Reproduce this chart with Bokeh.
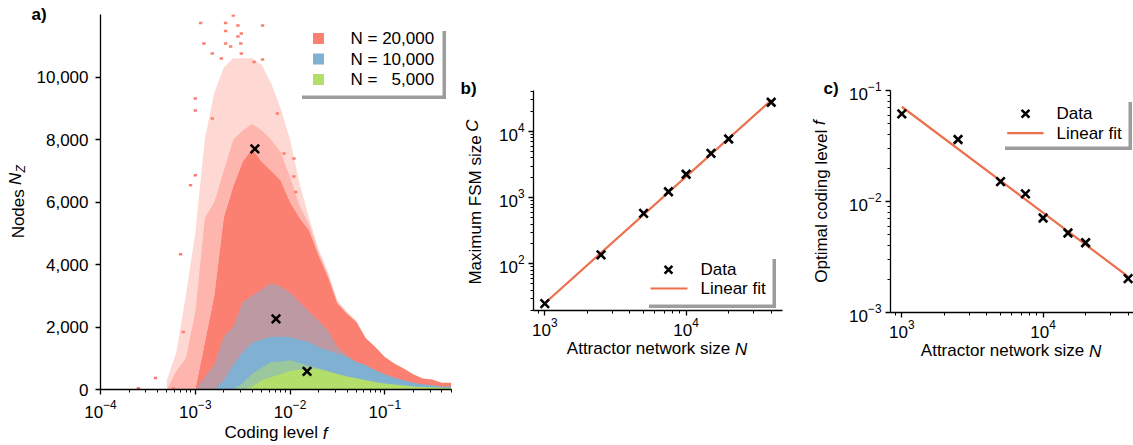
import numpy as np
from bokeh.plotting import figure
from bokeh.layouts import row, column
from bokeh.models import (FixedTicker, NumeralTickFormatter, Label, BoxAnnotation,
                          Title, Spacer)
from bokeh.embed import file_html
from bokeh.resources import INLINE

FONT = "Liberation Sans"
FS = "17px"
RED, BLUE, GREEN = "#FB8072", "#80B1D3", "#B3DE69"
FIT = "#EC6F4E"
SHADOW = "#9d9d9d"
NB = "\u00a0"

# ---------------------------------------------------------------------------
# Panel a: node counts per coding-level column (column centres in log10 f)
# ---------------------------------------------------------------------------
log_f = [-3.3, -3.2, -3.1, -3.0, -2.9, -2.8, -2.7, -2.6, -2.5, -2.4, -2.3,
         -2.2, -2.1, -2.0, -1.9, -1.8, -1.7, -1.6, -1.5, -1.4, -1.3, -1.2,
         -1.1, -1.0, -0.9, -0.8, -0.7, -0.6, -0.5, -0.4, -0.3]
# N = 20,000: top of the thin scatter, of the half-filled band, of the solid band
red_sparse = [300, 1200, 3000, 5000, 8000, 9500, 10300, 10600, 10600, 10600, 10400,
              9800, 9000, 8000, 6600, 5500, 4500, 3750, 2850, 2500, 2200, 1640,
              1360, 1040, 830, 670, 490, 350, 320, 220, 220]
red_mid = [0, 600, 1000, 2500, 5500, 6000, 7000, 8000, 8300, 8500, 8300,
           8000, 7600, 6800, 5900, 5300, 4400, 3700, 2800, 2450, 2180, 1640,
           1360, 1040, 830, 670, 490, 350, 320, 220, 220]
red_dense = [0, 0, 0, 0, 1500, 3000, 5500, 6500, 7300, 7700, 7300,
             7000, 6700, 6000, 5500, 5100, 4300, 3600, 2750, 2430, 2160, 1640,
             1360, 1040, 830, 670, 490, 350, 320, 220, 220]
# N = 10,000
blue_mix = [0, 0, 0, 0, 400, 800, 1700, 2000, 2800, 3000, 3200,
            3400, 3300, 3100, 2800, 2500, 2200, 1900, 1360, 1100, 880, 780,
            620, 490, 380, 300, 220, 170, 140, 100, 100]
blue_dense = [0, 0, 0, 0, 0, 0, 300, 800, 1200, 1500, 1600,
              1700, 1700, 1680, 1600, 1520, 1360, 1260, 1150, 1040, 880, 780,
              620, 490, 380, 300, 220, 170, 140, 100, 100]
# N = 5,000
green_mix = [0, 0, 0, 0, 0, 0, 0, 0, 200, 500, 700,
             880, 900, 940, 850, 760, 680, 600, 500, 420, 360, 300,
             240, 190, 160, 130, 100, 80, 70, 60, 50]
green_dense = [0, 0, 0, 0, 0, 0, 0, 0, 0, 100, 300,
               400, 500, 600, 640, 680, 650, 580, 500, 420, 360, 300,
               240, 190, 160, 130, 100, 80, 70, 60, 50]
# isolated N = 20,000 cells (log10 f, nodes)
stray_log_f = [-3.60, -3.42, -3.23, -3.155, -3.127, -3.05, -3.0, -3.0, -3.0, -2.944,
               -2.909, -2.82, -2.82, -2.725, -2.68, -2.68, -2.68, -2.627, -2.599, -2.55,
               -2.55, -2.52, -2.514, -2.514, -2.38, -2.29, -2.29, -2.134, -2.064, -1.959,
               -1.959, -1.94]
stray_nodes = [40, 370, 30, 4330, 1840, 6540, 6860, 8930, 9310, 11730,
               11070, 10750, 8670, 10590, 11730, 11470, 11070, 10980, 11970, 11650,
               11300, 11070, 11390, 10750, 10480, 11650, 10560, 8830, 7550, 7390,
               6820, 6320]

# ---------------------------------------------------------------------------
# Panels b and c: scaling with attractor network size
# ---------------------------------------------------------------------------
net_size = [1000, 2500, 5000, 7500, 10000, 15000, 20000, 40000]
fsm_size = [25, 137, 580, 1230, 2260, 4680, 7700, 27700]
opt_coding = [0.0616, 0.0362, 0.0151, 0.0117, 0.0071, 0.0052, 0.00425, 0.00202]
hist_sizes = [20000, 10000, 5000]
hist_labels = ["N = 20,000", "N = 10,000", "N = " + NB + NB + "5,000"]
fit_labels = ["Data", "Linear fit"]

# frame geometry on the page: left, bottom, width, height, log/lin x and y limits
GA = (100, 389, 351, 375, (-4.0, np.log10(0.505)), (0, 12000))
GB = (533, 310, 249, 220, (2.92, 4.682), (1.295, 4.62))
GC = (890, 312, 243, 222, (2.92, 4.64), (-3.0, -1.0))


def style(p, xlabel, ylabel, x_std, y_std, ylab_std, xlab_std):
    p.outline_line_color = None
    p.grid.visible = False
    p.background_fill_color = "white"
    p.border_fill_color = "white"
    for ax in (p.xaxis[0], p.yaxis[0]):
        ax.axis_line_color = "black"
        ax.axis_line_width = 1.3
        ax.major_tick_line_color = "black"
        ax.major_tick_line_width = 1.3
        ax.minor_tick_line_color = "black"
        ax.minor_tick_line_width = 1.0
        ax.major_tick_in = 0
        ax.major_tick_out = 5
        ax.minor_tick_in = 0
        ax.minor_tick_out = 3
        ax.major_label_text_font = FONT
        ax.major_label_text_font_size = FS
        ax.major_label_text_color = "black"
        ax.axis_label_text_font = FONT
        ax.axis_label_text_font_size = FS
        ax.axis_label_text_font_style = "normal"
        ax.axis_label_text_color = "black"
    p.xaxis.axis_label = xlabel
    p.yaxis.axis_label = ylabel
    p.xaxis.major_label_standoff = x_std
    p.yaxis.major_label_standoff = y_std
    p.yaxis.axis_label_standoff = ylab_std
    p.xaxis.axis_label_standoff = xlab_std


def italic(p, side, s, offset, standoff=None, size=FS):
    """Italic symbol set in line with an axis title."""
    if side == "below":
        valign, standoff = "top", (-41 if standoff is None else standoff)
    else:
        valign, standoff = "bottom", (-38 if standoff is None else standoff)
    p.add_layout(Title(text=s, align="left", vertical_align=valign, offset=offset,
                       standoff=standoff, text_font=FONT, text_font_size=size,
                       text_font_style="italic", text_color="black"), side)


def minors(lo, hi):
    return [m * 10.0 ** e for e in range(lo, hi) for m in range(2, 10)]


def scr(g, X, Y):
    return X - g[0], g[1] - Y


def to_data(g, X, Y):
    fl, fb, fw, fh, (x0, x1), (y0, y1) = g
    lx = x0 + (X - fl) / fw * (x1 - x0)
    ly = y0 + (fb - Y) / fh * (y1 - y0)
    return 10 ** lx, 10 ** ly


def box(p, g, X0, Y0, X1, Y1, color):
    l, t = scr(g, X0, Y0)
    r, b = scr(g, X1, Y1)
    p.add_layout(BoxAnnotation(left=l, right=r, top=t, bottom=b,
                               left_units="screen", right_units="screen",
                               top_units="screen", bottom_units="screen",
                               fill_color=color, fill_alpha=1.0, line_color=None))


def shadow_box(p, g, X0, Y0, X1, Y1, off=3.5):
    box(p, g, X0 + off, Y0 + off, X1 + off, Y1 + off, SHADOW)
    box(p, g, X0, Y0, X1, Y1, "white")


def legend_text(p, g, X, Y, s):
    x, y = scr(g, X, Y)
    p.add_layout(Label(x=x, y=y, x_units="screen", y_units="screen", text=s,
                       text_font=FONT, text_font_size=FS, text_color="black",
                       text_align="left", text_baseline="middle"))


def tag(p, g, X, s, standoff):
    p.add_layout(Title(text=s, align="left", vertical_align="bottom",
                       offset=X - g[0], standoff=standoff, text_font=FONT,
                       text_font_size=FS, text_font_style="bold",
                       text_color="black"), "above")


# ----------------------------- panel a -------------------------------------
pa = figure(width=459, height=445, x_axis_type="log", x_range=(1e-4, 0.505),
            y_range=(0, 12000), output_backend="svg", toolbar_location=None,
            min_border_left=100, min_border_right=8, min_border_top=14,
            min_border_bottom=56)
style(pa, "Coding level" + NB * 2, "Nodes" + NB * 5, 5, 7, 6, 2)

xc = [10 ** v for v in log_f]
pa.varea(x=xc, y1=red_mid, y2=red_sparse, fill_color=RED, fill_alpha=0.3)
pa.varea(x=xc, y1=red_dense, y2=red_mid, fill_color=RED, fill_alpha=0.58)
pa.varea(x=xc, y1=0, y2=red_dense, fill_color=RED)
pa.varea(x=xc, y1=0, y2=blue_dense, fill_color=BLUE)
pa.varea(x=xc, y1=blue_dense, y2=blue_mix, fill_color=BLUE, fill_alpha=0.5)
pa.varea(x=xc, y1=0, y2=green_dense, fill_color=GREEN)
pa.varea(x=xc, y1=green_dense, y2=green_mix, fill_color=GREEN, fill_alpha=0.5)

sf = np.array(stray_log_f)
sn = np.array(stray_nodes)
pa.quad(left=10 ** (sf - 0.018), right=10 ** (sf + 0.018), bottom=sn - 40, top=sn + 40,
        fill_color=RED, line_color=None)

idx = [net_size.index(n) for n in hist_sizes]
pa.scatter([opt_coding[i] for i in idx], [fsm_size[i] for i in idx], marker="x",
           size=12, line_width=2.6, line_color="black")

pa.xaxis.ticker = FixedTicker(ticks=[1e-4, 1e-3, 1e-2, 1e-1], minor_ticks=minors(-4, 0))
pa.yaxis.ticker = FixedTicker(ticks=[0, 2000, 4000, 6000, 8000, 10000])
pa.yaxis.formatter = NumeralTickFormatter(format="0,0")
pa.yaxis.minor_tick_line_color = None

shadow_box(pa, GA, 298, 27, 442, 95)
for k, (lbl, col) in enumerate(zip(hist_labels, [RED, BLUE, GREEN])):
    yc = 38 + 20.5 * k
    box(pa, GA, 312.5, yc - 5.5, 323.5, yc + 5.5, col)
    legend_text(pa, GA, 350, yc, lbl)
tag(pa, GA, 31, "a)", -18)
italic(pa, "below", "f", 222.2)
italic(pa, "left", "N", 204.6)
italic(pa, "left", "Z", 216.9, standoff=-45, size="12px")

# ----------------------------- panels b, c ---------------------------------
lx = np.log10(net_size)
fit_n = np.array([net_size[0], net_size[-1]], dtype=float)


def fit_panel(values, g, canvas_left, width, height, ylabel, y_sym, y_sym_off, y_std,
              ylab_std, y_ticks, y_minor, n_off, box_xy, mark_xy, line_xy, text_x,
              tag_x, tag_s):
    (x0, x1), (y0, y1) = g[4], g[5]
    left = g[0] - canvas_left
    p = figure(width=width, height=height, x_axis_type="log", y_axis_type="log",
               x_range=(10 ** x0, 10 ** x1), y_range=(10 ** y0, 10 ** y1),
               output_backend="svg", toolbar_location=None,
               min_border_left=left, min_border_right=width - left - g[2],
               min_border_top=14, min_border_bottom=56)
    style(p, "Attractor network size" + NB * 4, ylabel, 2, y_std, ylab_std, 0)
    k = np.polyfit(lx, np.log10(values), 1)
    p.line(fit_n, 10 ** np.polyval(k, np.log10(fit_n)), line_color=FIT, line_width=2.2)
    p.scatter(net_size, values, marker="x", size=12, line_width=2.6, line_color="black")
    p.xaxis.ticker = FixedTicker(ticks=[1e3, 1e4], minor_ticks=minors(2, 5))
    p.yaxis.ticker = FixedTicker(ticks=y_ticks, minor_ticks=y_minor)
    shadow_box(p, g, *box_xy)
    mx, my = to_data(g, *mark_xy)
    p.scatter([mx], [my], marker="x", size=11, line_width=2.6, line_color="black",
              level="overlay")
    lxa, lxb, ly = line_xy
    box(p, g, lxa, ly - 1.1, lxb, ly + 1.1, FIT)
    legend_text(p, g, text_x, mark_xy[1], fit_labels[0])
    legend_text(p, g, text_x, ly, fit_labels[1])
    tag(p, g, tag_x, tag_s, -14)
    italic(p, "below", "N", n_off)
    italic(p, "left", y_sym, y_sym_off)
    return p


pb = fit_panel(fsm_size, GB, 459, 341, 290, "Maximum FSM size" + NB * 4, "C", 178.7,
               4, 11, [1e2, 1e3, 1e4], minors(1, 5), 201.5,
               (645, 255, 772, 304), (668, 269.3), (650, 687, 288), 700, 460, "b)")
pc = fit_panel(opt_coding, GC, 800, 333, 292, "Optimal coding level" + NB * 2, "f", 187.6,
               4, 15, [1e-3, 1e-2, 1e-1], minors(-3, -1), 198.5,
               (1001, 98, 1128, 146), (1025, 113.3), (1006.7, 1043, 132.7), 1056, 823, "c)")

layout = row(pa,
             column(Spacer(width=341, height=76), pb),
             column(Spacer(width=333, height=76), pc))
open("out.html", "w").write(file_html(layout, INLINE))
